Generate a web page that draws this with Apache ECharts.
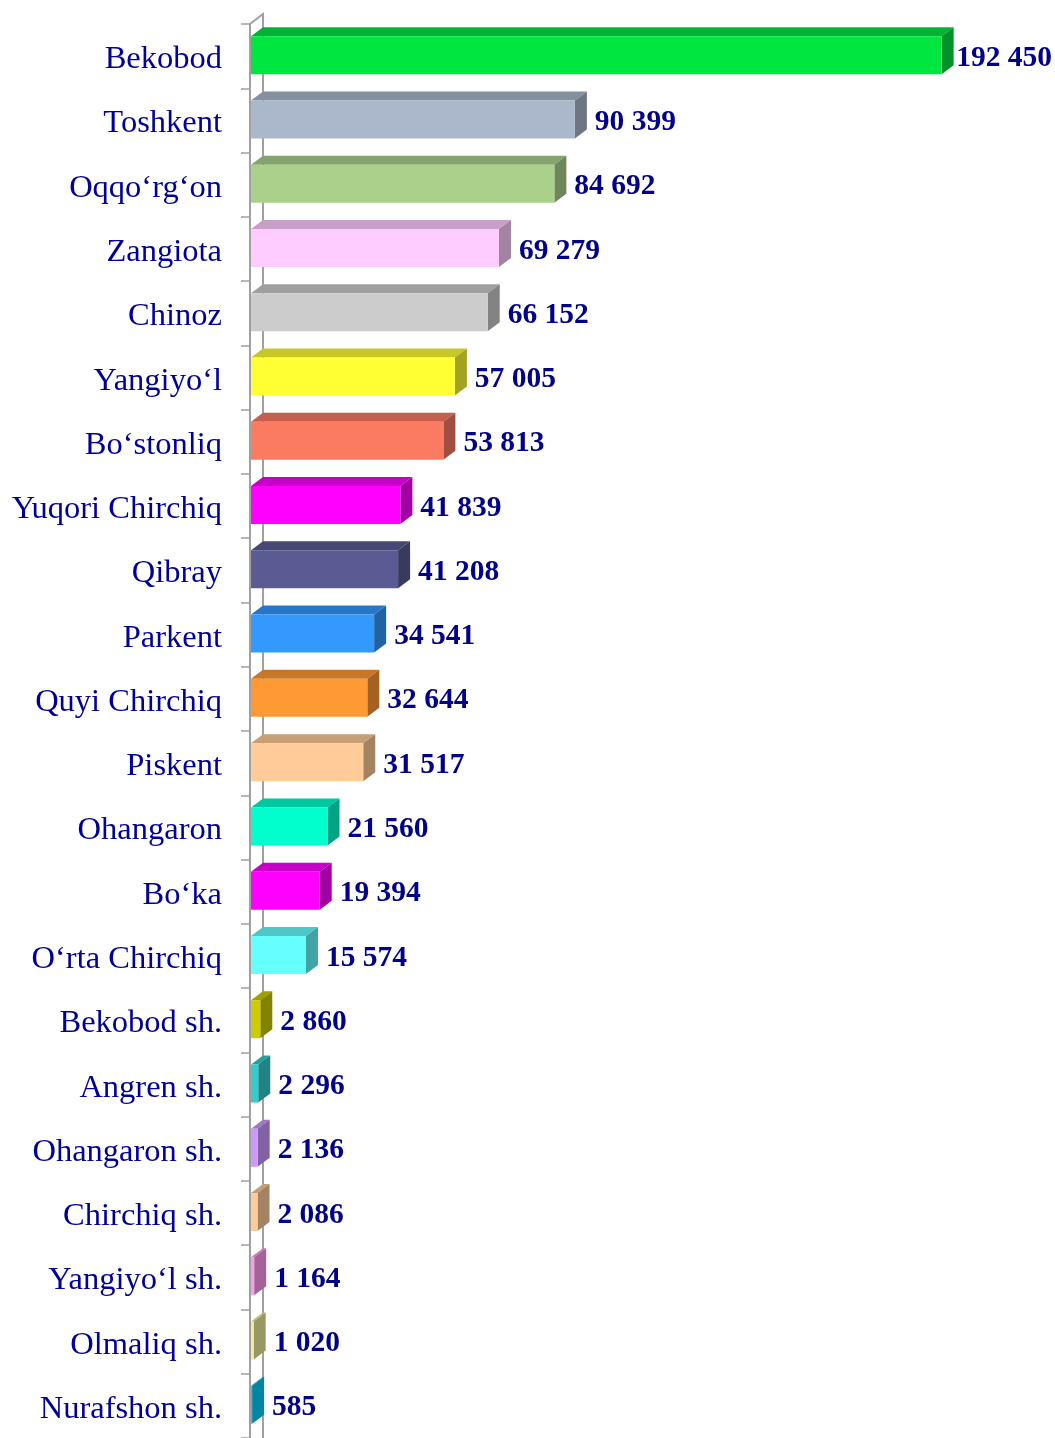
<!DOCTYPE html>
<html>
<head>
<meta charset="utf-8">
<script src="https://cdn.jsdelivr.net/npm/echarts@6/dist/echarts.min.js"></script>
<style>
  html, body { margin: 0; padding: 0; background: #fff; }
  #main { width: 1055px; height: 1438px; }
</style>
</head>
<body>
<div id="main"></div>
<script>
var categories = ['Bekobod', 'Toshkent', 'Oqqo‘rg‘on', 'Zangiota', 'Chinoz', 'Yangiyo‘l', 'Bo‘stonliq',
    'Yuqori Chirchiq', 'Qibray', 'Parkent', 'Quyi Chirchiq', 'Piskent', 'Ohangaron', 'Bo‘ka',
    'O‘rta Chirchiq', 'Bekobod sh.', 'Angren sh.', 'Ohangaron sh.', 'Chirchiq sh.', 'Yangiyo‘l sh.',
    'Olmaliq sh.', 'Nurafshon sh.'];
var values = [192450, 90399, 84692, 69279, 66152, 57005, 53813, 41839, 41208, 34541, 32644,
    31517, 21560, 19394, 15574, 2860, 2296, 2136, 2086, 1164, 1020, 585];
var colors = ['#00E640', '#ABB8CB', '#AAD18C', '#FFCCFF', '#CCCCCC', '#FFFF33', '#FA7A62',
    '#FF00FF', '#5B5B93', '#3399FF', '#FF9933', '#FFCC99', '#00FFCC', '#FF00FF', '#66FFFF',
    '#CCCC00', '#33CCCC', '#CC99FF', '#FFCC99', '#FF99EE', '#EEEE99', '#00D0FF'];

var DX = 12, DY = 9, BAR_H = 38;
var LABEL_FONT = 'bold 29.5px "Liberation Serif", "Times New Roman", serif';

function fmt(v){
    return String(v).replace(/\B(?=(\d{3})+(?!\d))/g, ' ');
}
// darker shade for top / side faces
function shade(c, k){
    var a = echarts.color.parse(c);
    return 'rgb(' + Math.round(a[0]*k) + ',' + Math.round(a[1]*k) + ',' + Math.round(a[2]*k) + ')';
}
var measureCtx = document.createElement('canvas').getContext('2d');
function textWidth(s){
    measureCtx.font = LABEL_FONT;
    return measureCtx.measureText(s).width;
}

var myChart = echarts.init(document.getElementById('main'));

var barData = [];
for(var i = 0; i < values.length; i++){
    barData.push([values[i], i]);
}

myChart.setOption({
    animation: false,
    grid: { left: 250, right: 0, top: 24, bottom: 0 },
    xAxis: {
        type: 'value',
        min: 0,
        max: 224000,
        show: false,
        splitLine: { show: false }
    },
    yAxis: {
        type: 'category',
        inverse: true,
        data: categories,
        axisLine: { show: true, lineStyle: { color: '#a0a0a0', width: 2 } },
        axisTick: { show: true, length: 9, lineStyle: { color: '#a0a0a0', width: 1.5 } },
        axisLabel: {
            margin: 28,
            color: '#000099',
            fontFamily: '"Liberation Serif", "Times New Roman", serif',
            fontSize: 32.5,
            verticalAlign: 'top',
            lineHeight: 7
        }
    },
    series: [{
        // back wall of the 3d plot
        type: 'custom',
        z: 1,
        data: [[0, 0]],
        encode: { x: 0, y: 1 },
        renderItem: function(params, api){
            var cs = params.coordSys;
            var x0 = cs.x;
            return {
                type: 'polyline',
                shape: { points: [[x0, cs.y], [x0 + DX + 1, cs.y - DY - 1], [x0 + DX + 1, cs.y + cs.height]] },
                style: { stroke: '#a0a0a0', lineWidth: 2, fill: null }
            };
        }
    }, {
        type: 'custom',
        z: 2,
        data: barData,
        encode: { x: 0, y: 1 },
        renderItem: function(params, api){
            var v = api.value(0);
            var idx = api.value(1);
            var start = api.coord([0, idx]);
            var end = api.coord([v, idx]);
            var x0 = start[0] + 1, x1 = end[0];
            var y0 = start[1] - 20;
            var c = colors[idx];
            var txt = fmt(v);
            var tx = Math.min(x1 + DX + 8, api.getWidth() - 3 - textWidth(txt));
            return {
                type: 'group',
                children: [{
                    type: 'polygon',
                    shape: { points: [[x0, y0], [x0 + DX, y0 - DY], [x1 + DX, y0 - DY], [x1, y0]] },
                    style: { fill: shade(c, 0.78) }
                }, {
                    type: 'polygon',
                    shape: { points: [[x1, y0], [x1 + DX, y0 - DY], [x1 + DX, y0 - DY + BAR_H], [x1, y0 + BAR_H]] },
                    style: { fill: shade(c, 0.64) }
                }, {
                    type: 'rect',
                    shape: { x: x0, y: y0, width: Math.max(x1 - x0, 0), height: BAR_H },
                    style: { fill: c }
                }, {
                    type: 'text',
                    style: {
                        x: tx,
                        y: start[1] + 2,
                        text: txt,
                        fill: '#00008B',
                        font: LABEL_FONT,
                        verticalAlign: 'middle',
                        align: 'left'
                    }
                }]
            };
        }
    }]
});
</script>
</body>
</html>
